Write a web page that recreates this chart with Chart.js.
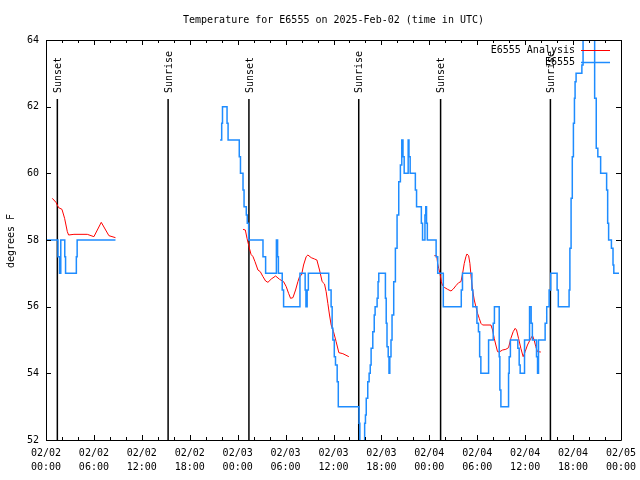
<!DOCTYPE html>
<html><head><meta charset="utf-8">
<script src="https://cdn.jsdelivr.net/npm/chart.js@4.4.1/dist/chart.umd.min.js"></script>
<style>html,body{margin:0;padding:0;background:#fff;}canvas{display:block;}</style>
</head><body>
<canvas id="c" width="640" height="480"></canvas>
<script>
// ---- text ----
const titleText = 'Temperature for E6555 on 2025-Feb-02 (time in UTC)';
const yAxisLabel = 'degrees F';
const seriesLabels = ['E6555 Analysis', 'E6555'];
// ---- tick labels (x = hours since 02/02 00:00 UTC) ----
const dateLabels = ['02/02', '02/03', '02/04', '02/05'];
const hourLabels = ['00:00', '06:00', '12:00', '18:00'];
const yMin = 52, yMax = 64, yStep = 2;
const xMin = 0, xMax = 72, xStep = 6, xMinorStep = 2;
// ---- sun events ----
const eventTimes = [1.42, 15.29, 25.41, 39.16, 49.41, 63.16];
const eventLabels = ['Sunset', 'Sunrise', 'Sunset', 'Sunrise', 'Sunset', 'Sunrise'];
// ---- observed E6555 (value holds from each time) ----
const obsTimes = [
  0, 1.5, 1.7, 1.85, 2.35, 2.45, 3.8, 3.9, 8.7, 8.75,
  21.8, 22.0, 22.1, 22.67, 22.8, 24.2, 24.35, 24.67, 24.8, 25.08,
  25.2, 25.375, 27.17, 27.5, 28.85, 29.0, 29.1, 29.58, 29.75, 31.8,
  32.45, 32.55, 32.7, 32.85, 35.4, 35.7, 35.83, 35.92, 36.1, 36.25,
  36.46, 36.6, 39.2, 39.3, 39.9, 40.0, 40.1, 40.29, 40.46, 40.6,
  40.71, 40.92, 41.1, 41.21, 41.46, 41.58, 41.67, 42.5, 42.6, 42.7,
  42.85, 42.95, 43.05, 43.2, 43.33, 43.54, 43.75, 43.96, 44.17, 44.375,
  44.55, 44.7, 44.85, 45.35, 45.45, 45.6, 46.25, 46.4, 47.0, 47.15,
  47.45, 47.55, 47.65, 47.75, 48.85, 49.05, 49.75, 52.0, 52.15, 53.33,
  53.45, 53.96, 54.15, 54.3, 54.45, 55.42, 56.0, 56.15, 56.75, 56.83,
  56.96, 57.92, 58.0, 58.15, 59.08, 59.25, 59.375, 59.92, 60.55, 60.75,
  60.9, 61.42, 61.55, 61.67, 62.5, 62.7, 63.0, 63.2, 64.0, 64.15,
  65.5, 65.6, 65.75, 65.9, 66.04, 66.17, 66.25, 66.375, 67.1, 67.25,
  68.7, 68.9, 69.1, 69.45, 70.2, 70.33, 70.45, 70.8, 71.0, 71.1,
  71.75
];
const obsTemps = [
  58, 57.5, 57, 58, 57.5, 57, 57.5, 58, 58, null,
  61, 61.5, 62, 61.5, 61, 60.5, 60, 59.5, 59, 58.75,
  58.5, 58, 57.5, 57, 58, 57.5, 57, 56.5, 56, 57,
  56.5, 56, 56.5, 57, 56.5, 56, 55.35, 55, 54.5, 54.25,
  53.75, 53, 52.5, 51, 52.5, 52.75, 53.25, 53.75, 54, 54.25,
  54.75, 55.25, 55.75, 56, 56.25, 56.75, 57, 56.25, 55.5, 54.8,
  54.5, 54, 54.5, 55, 55.75, 56.75, 57.75, 58.75, 59.75, 60.25,
  61, 60.5, 60, 61, 60.5, 60, 59.5, 59, 58.5, 58,
  58.75, 59, 58.5, 58, 57.5, 57, 56, 56.5, 57, 56.5,
  56, 55.5, 55.25, 54.5, 54, 55, 55.5, 56, 54.5, 53.5,
  53, 54, 54.5, 55, 54.75, 54.25, 54, 55, 56, 55.5,
  55, 54.5, 54, 55, 55.5, 56, 56.5, 57, 56.5, 56,
  56.5, 57.75, 59.25, 60.5, 61.5, 62.25, 62.75, 63, 63.25, 65,
  62.25, 60.75, 60.5, 60, 59.5, 58.5, 58, 57.75, 57.25, 57,
  57
];
// ---- analysis E6555 ----
const anaTimes = [
  0.79, 1.25, 1.58, 2.0, 2.33, 2.67, 2.83, 3.5, 5.17, 6.0, 6.92, 7.875, 8.7, 8.75,
  24.67, 24.96, 25.17, 25.42, 25.67, 25.92, 26.17, 26.54, 26.83, 27.17,
  27.5, 27.79, 28.21, 28.75, 29.25, 29.75, 30.08, 30.375, 30.625, 30.92,
  31.25, 31.54, 31.75, 32.0, 32.25, 32.58, 32.79, 33.21, 33.625, 33.92,
  34.25, 34.58, 34.875, 35.08, 35.29, 35.5, 35.71, 36.0, 36.33, 36.67,
  37.17, 37.92, 38.0,
  48.625, 48.92, 49.04, 49.17, 49.33, 49.5, 49.67, 49.875, 50.29, 50.71,
  51.0, 51.33, 51.67, 51.96, 52.17, 52.375, 52.58, 52.71, 52.92, 53.08,
  53.25, 53.42, 53.625, 53.83, 54.04, 54.25, 54.46, 54.67, 55.71, 55.92,
  56.125, 56.33, 56.54, 56.75, 57.17, 57.58, 57.92, 58.21, 58.5, 58.75,
  58.92, 59.17, 59.46, 59.75, 60.0, 60.29, 60.71, 60.92, 61.125, 61.33,
  61.54, 61.96
];
const anaTemps = [
  59.25, 59.13, 58.97, 58.92, 58.65, 58.25, 58.15, 58.17, 58.17, 58.1, 58.53, 58.13, 58.07, null,
  58.32, 58.3, 58.05, 57.8, 57.57, 57.5, 57.35, 57.1, 57.05, 56.9,
  56.77, 56.73, 56.83, 56.92, 56.82, 56.75, 56.6, 56.4, 56.25, 56.27,
  56.5, 56.75, 56.9, 56.95, 57.25, 57.5, 57.55, 57.47, 57.43, 57.4,
  57.1, 56.75, 56.68, 56.45, 56.1, 55.75, 55.45, 55.25, 54.95, 54.62,
  54.59, 54.5, null,
  57.53, 57.53, 57.3, 57.15, 57.0, 56.75, 56.63, 56.58, 56.52, 56.47,
  56.53, 56.63, 56.72, 56.75, 57.0, 57.3, 57.5, 57.58, 57.53, 57.3,
  56.85, 56.5, 56.2, 56.0, 55.8, 55.65, 55.5, 55.45, 55.45, 55.3,
  55.05, 54.85, 54.65, 54.64, 54.7, 54.72, 54.77, 55.05, 55.25, 55.35,
  55.3, 55.05, 54.75, 54.5, 54.65, 54.85, 55.05, 55.13, 55.0, 54.8,
  54.65, 54.64
];

const FONT = 'DejaVu Sans Mono';
const toXY = (ts, vs) => ts.slice(0, Math.min(ts.length, vs.length)).map((t, i) => ({x: t, y: vs[i]}));

const deco = {
  id: 'deco',
  beforeDatasetsDraw(chart) {
    const {ctx, chartArea: a, scales: {x}} = chart;
    ctx.save();
    ctx.strokeStyle = '#000';
    ctx.lineWidth = 1.5;
    eventTimes.forEach(t => {
      const px = x.getPixelForValue(t);
      ctx.beginPath(); ctx.moveTo(px, a.top + 59); ctx.lineTo(px, a.bottom); ctx.stroke();
    });
    ctx.restore();
  },
  afterDraw(chart) {
    const {ctx, chartArea: a, scales: {x, y}} = chart;
    ctx.save();
    // frame
    ctx.strokeStyle = '#000'; ctx.lineWidth = 1;
    ctx.beginPath();
    ctx.rect(a.left + 0.5, a.top + 0.5, a.right - a.left, a.bottom - a.top);
    ctx.stroke();
    // ticks
    ctx.beginPath();
    for (let v = xMin; v <= xMax + 1e-9; v += xMinorStep) {
      const px = Math.round(x.getPixelForValue(v)) + 0.5;
      const len = (v % xStep === 0) ? 5 : 3;
      ctx.moveTo(px, a.bottom); ctx.lineTo(px, a.bottom - len);
      ctx.moveTo(px, a.top); ctx.lineTo(px, a.top + len);
    }
    for (let v = yMin; v <= yMax; v += yStep) {
      const py = Math.round(y.getPixelForValue(v)) + 0.5;
      ctx.moveTo(a.left, py); ctx.lineTo(a.left + 5, py);
      ctx.moveTo(a.right, py); ctx.lineTo(a.right - 5, py);
    }
    ctx.stroke();
    ctx.fillStyle = '#000';
    ctx.font = '10px "' + FONT + '"';
    // title
    ctx.textAlign = 'center'; ctx.textBaseline = 'middle';
    ctx.fillText(titleText, (a.left + a.right) / 2, 20);
    // y label
    ctx.save();
    ctx.translate(11, (a.top + a.bottom) / 2 + 1);
    ctx.rotate(-Math.PI / 2);
    ctx.fillText(yAxisLabel, 0, 0);
    ctx.restore();
    // event labels
    eventTimes.forEach((t, i) => {
      const px = x.getPixelForValue(t);
      ctx.save();
      ctx.translate(px + 1, a.top + 53);
      ctx.rotate(-Math.PI / 2);
      ctx.textAlign = 'left'; ctx.textBaseline = 'middle';
      ctx.fillText(eventLabels[i], 0, 0);
      ctx.restore();
    });
    // legend
    chart.data.datasets.forEach((ds, i) => {
      const yy = a.top + 10 + i * 12;
      ctx.textAlign = 'right'; ctx.textBaseline = 'middle';
      ctx.fillStyle = '#000';
      ctx.fillText(ds.label, a.right - 46, yy);
      ctx.strokeStyle = ds.borderColor; ctx.lineWidth = ds.borderWidth;
      ctx.beginPath(); ctx.moveTo(a.right - 40, yy + 0.5); ctx.lineTo(a.right - 11, yy + 0.5); ctx.stroke();
    });
    ctx.restore();
  }
};

new Chart(document.getElementById('c'), {
  type: 'line',
  data: {
    datasets: [
      { label: seriesLabels[0], data: toXY(anaTimes, anaTemps), borderColor: '#ff0000', borderWidth: 1,
        pointRadius: 0, tension: 0, spanGaps: false, order: 1 },
      { label: seriesLabels[1], data: toXY(obsTimes, obsTemps), borderColor: '#1e8cff', borderWidth: 1.5,
        pointRadius: 0, tension: 0, stepped: true, spanGaps: false, order: 0 }
    ]
  },
  options: {
    responsive: false, animation: false, devicePixelRatio: 1,
    layout: { padding: { top: 40, right: 19, bottom: 0, left: 0 } },
    plugins: { legend: { display: false }, title: { display: false }, tooltip: { enabled: false } },
    scales: {
      x: {
        type: 'linear', min: xMin, max: xMax,
        grid: { display: false, drawTicks: false }, border: { display: false },
        ticks: {
          stepSize: xStep, autoSkip: false, maxRotation: 0, minRotation: 0, padding: 6,
          color: '#000', font: { family: FONT, size: 10, lineHeight: 1.4 },
          callback: v => [dateLabels[Math.floor(v / 24)], hourLabels[(v % 24) / 6]]
        },
        afterFit: s => { s.height = 40; s.paddingLeft = 0; s.paddingRight = 0; }
      },
      y: {
        min: yMin, max: yMax,
        grid: { display: false, drawTicks: false }, border: { display: false },
        ticks: { stepSize: yStep, padding: 7, color: '#000', font: { family: FONT, size: 10 } },
        afterFit: s => { s.width = 46; s.paddingTop = 0; s.paddingBottom = 0; }
      }
    }
  },
  plugins: [deco]
});
</script>
</body></html>
